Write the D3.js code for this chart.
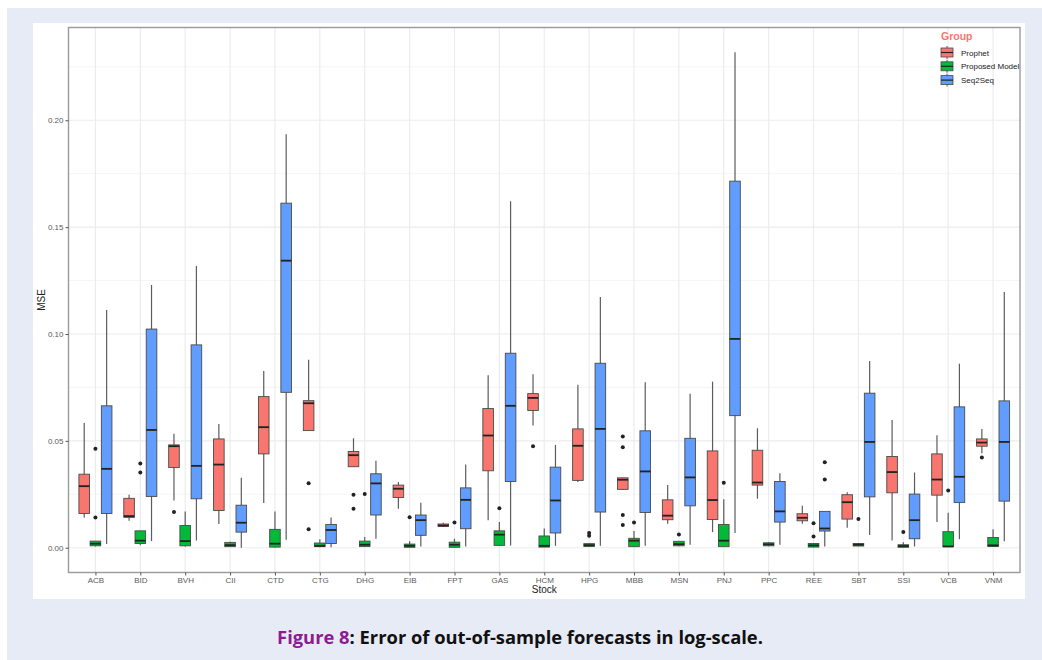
<!DOCTYPE html>
<html>
<head>
<meta charset="utf-8">
<script src="https://cdn.jsdelivr.net/npm/d3@7/dist/d3.min.js"></script>
<style>
	body { margin: 0; background: #fff; }
	text { font-family: "Liberation Sans", Arial, sans-serif; }
</style>
</head>
<body>
<svg id="chart"></svg>
<script>
const stocks = [ 'ACB', 'BID', 'BVH', 'CII', 'CTD', 'CTG', 'DHG', 'EIB', 'FPT', 'GAS', 'HCM',
	'HPG', 'MBB', 'MSN', 'PNJ', 'PPC', 'REE', 'SBT', 'SSI', 'VCB', 'VNM' ];
const groups = [ 'Prophet', 'Proposed Model', 'Seq2Seq' ];
const groupColors = [ '#F8766D', '#00BA38', '#619CFF' ];

// [lower whisker, Q1, median, Q3, upper whisker] for each stock
const prophet = [
	[ 0.0142, 0.0160, 0.0288, 0.0344, 0.0583 ],
	[ 0.0126, 0.0142, 0.0148, 0.0231, 0.0248 ],
	[ 0.0221, 0.0375, 0.0475, 0.0481, 0.0533 ],
	[ 0.0111, 0.0174, 0.0389, 0.0509, 0.0579 ],
	[ 0.0209, 0.0439, 0.0564, 0.0707, 0.0827 ],
	[ 0.0548, 0.0548, 0.0676, 0.0688, 0.0879 ],
	[ 0.0379, 0.0379, 0.0433, 0.0450, 0.0512 ],
	[ 0.0182, 0.0235, 0.0276, 0.0293, 0.0308 ],
	[ 0.0097, 0.0100, 0.0104, 0.0111, 0.0117 ],
	[ 0.0129, 0.0360, 0.0525, 0.0651, 0.0807 ],
	[ 0.0572, 0.0642, 0.0701, 0.0721, 0.0812 ],
	[ 0.0308, 0.0315, 0.0477, 0.0556, 0.0762 ],
	[ 0.0273, 0.0273, 0.0318, 0.0327, 0.0327 ],
	[ 0.0112, 0.0131, 0.0150, 0.0224, 0.0294 ],
	[ 0.0073, 0.0132, 0.0223, 0.0453, 0.0777 ],
	[ 0.0229, 0.0293, 0.0305, 0.0456, 0.0559 ],
	[ 0.0112, 0.0126, 0.0140, 0.0159, 0.0196 ],
	[ 0.0093, 0.0134, 0.0213, 0.0248, 0.0260 ],
	[ 0.0034, 0.0257, 0.0354, 0.0427, 0.0597 ],
	[ 0.0120, 0.0246, 0.0319, 0.0439, 0.0526 ],
	[ 0.0442, 0.0475, 0.0492, 0.0509, 0.0555 ],
];
const proposed = [
	[ 0.0006, 0.0009, 0.0019, 0.0031, 0.0031 ],
	[ 0.0012, 0.0020, 0.0033, 0.0079, 0.0079 ],
	[ 0.0006, 0.0009, 0.0031, 0.0104, 0.0170 ],
	[ 0.0003, 0.0005, 0.0012, 0.0025, 0.0028 ],
	[ 0.0001, 0.0003, 0.0019, 0.0086, 0.0170 ],
	[ 0.0002, 0.0005, 0.0009, 0.0022, 0.0040 ],
	[ 0.0004, 0.0006, 0.0014, 0.0031, 0.0050 ],
	[ 0.0001, 0.0002, 0.0009, 0.0017, 0.0030 ],
	[ 0.0001, 0.0002, 0.0014, 0.0026, 0.0042 ],
	[ 0.0008, 0.0011, 0.0061, 0.0079, 0.0120 ],
	[ 0.0002, 0.0003, 0.0009, 0.0055, 0.0090 ],
	[ 0.0004, 0.0006, 0.0012, 0.0019, 0.0021 ],
	[ 0.0003, 0.0005, 0.0033, 0.0044, 0.0078 ],
	[ 0.0007, 0.0009, 0.0017, 0.0030, 0.0030 ],
	[ 0.0004, 0.0005, 0.0033, 0.0109, 0.0227 ],
	[ 0.0007, 0.0009, 0.0016, 0.0023, 0.0026 ],
	[ 0.0002, 0.0003, 0.0011, 0.0020, 0.0020 ],
	[ 0.0007, 0.0008, 0.0014, 0.0020, 0.0022 ],
	[ 0.0001, 0.0002, 0.0008, 0.0014, 0.0026 ],
	[ 0.0004, 0.0005, 0.0006, 0.0075, 0.0164 ],
	[ 0.0005, 0.0006, 0.0011, 0.0048, 0.0087 ],
];
const seq2seq = [
	[ 0.0017, 0.0160, 0.0369, 0.0664, 0.1112 ],
	[ 0.0031, 0.0240, 0.0551, 0.1023, 0.1229 ],
	[ 0.0034, 0.0229, 0.0383, 0.0949, 0.1318 ],
	[ 0.0000, 0.0073, 0.0117, 0.0199, 0.0327 ],
	[ 0.0037, 0.0727, 0.1343, 0.1612, 0.1935 ],
	[ 0.0002, 0.0020, 0.0083, 0.0109, 0.0142 ],
	[ 0.0042, 0.0153, 0.0301, 0.0346, 0.0407 ],
	[ 0.0006, 0.0058, 0.0129, 0.0153, 0.0210 ],
	[ 0.0006, 0.0089, 0.0224, 0.0280, 0.0389 ],
	[ 0.0011, 0.0310, 0.0664, 0.0910, 0.1621 ],
	[ 0.0009, 0.0069, 0.0221, 0.0377, 0.0481 ],
	[ 0.0009, 0.0167, 0.0556, 0.0863, 0.1173 ],
	[ 0.0009, 0.0165, 0.0357, 0.0547, 0.0774 ],
	[ 0.0014, 0.0196, 0.0329, 0.0512, 0.0720 ],
	[ 0.0069, 0.0618, 0.0977, 0.1715, 0.2318 ],
	[ 0.0014, 0.0120, 0.0170, 0.0310, 0.0349 ],
	[ 0.0006, 0.0078, 0.0090, 0.0170, 0.0170 ],
	[ 0.0059, 0.0238, 0.0495, 0.0723, 0.0874 ],
	[ 0.0006, 0.0042, 0.0129, 0.0251, 0.0352 ],
	[ 0.0040, 0.0212, 0.0332, 0.0659, 0.0861 ],
	[ 0.0030, 0.0218, 0.0495, 0.0687, 0.1196 ],
];

// outliers: [stock, value]
const prophetOutliers = [
	[ 'BVH', 0.0167 ], [ 'CTG', 0.0302 ], [ 'CTG', 0.0087 ], [ 'DHG', 0.0248 ], [ 'DHG', 0.0182 ],
	[ 'HCM', 0.0475 ], [ 'MBB', 0.0520 ], [ 'MBB', 0.0470 ], [ 'MBB', 0.0153 ], [ 'MBB', 0.0106 ],
	[ 'VNM', 0.0422 ],
];
const proposedOutliers = [
	[ 'ACB', 0.0463 ], [ 'ACB', 0.0142 ], [ 'BID', 0.0394 ], [ 'BID', 0.0352 ], [ 'DHG', 0.0251 ],
	[ 'EIB', 0.0143 ], [ 'FPT', 0.0118 ], [ 'GAS', 0.0185 ], [ 'HPG', 0.0069 ], [ 'HPG', 0.0056 ],
	[ 'MBB', 0.0118 ], [ 'MSN', 0.0062 ], [ 'PNJ', 0.0304 ], [ 'REE', 0.0114 ], [ 'REE', 0.0053 ],
	[ 'SBT', 0.0134 ], [ 'SSI', 0.0073 ], [ 'VCB', 0.0268 ],
];
const seq2seqOutliers = [
	[ 'REE', 0.0400 ], [ 'REE', 0.0319 ],
];

const yTicks = [ 0, 0.05, 0.10, 0.15, 0.20 ];
const yMinorTicks = [ 0.025, 0.075, 0.125, 0.175, 0.225 ];

const width = 1042;
const height = 660;
const panel = { left: 68.5, top: 27.5, right: 1020, bottom: 572.5 };

const svg = d3.select( '#chart' )
	.attr( 'width', width )
	.attr( 'height', height );

// page backdrop
svg.append( 'rect' ).attr( 'x', 7 ).attr( 'y', 8 ).attr( 'width', width - 7 ).attr( 'height', height - 8 )
	.attr( 'fill', '#e7ebf6' );
svg.append( 'rect' ).attr( 'x', 33 ).attr( 'y', 23 ).attr( 'width', 992 ).attr( 'height', 576 )
	.attr( 'fill', '#ffffff' );

const statsByGroup = [ prophet, proposed, seq2seq ];
const outliersByGroup = [ prophetOutliers, proposedOutliers, seq2seqOutliers ];

// y range: data extent expanded by 5% like ggplot
const allValues = statsByGroup.flat( 2 ).concat( outliersByGroup.flat().map( ( d ) => d[ 1 ] ) );
const yMin = d3.min( allValues );
const yMax = d3.max( allValues );
const pad = ( yMax - yMin ) * 0.05;

const x = d3.scalePoint()
	.domain( stocks )
	.range( [ panel.left, panel.right ] )
	.padding( 0.6 );

const y = d3.scaleLinear()
	.domain( [ yMin - pad, yMax + pad ] )
	.range( [ panel.bottom, panel.top ] );

const dodge = x.step() * 0.25;
const boxWidth = x.step() * 0.236;

// grid
const grid = svg.append( 'g' );
grid.selectAll( 'line.minor' ).data( yMinorTicks ).enter().append( 'line' )
	.attr( 'x1', panel.left ).attr( 'x2', panel.right )
	.attr( 'y1', ( d ) => y( d ) ).attr( 'y2', ( d ) => y( d ) )
	.attr( 'stroke', '#f5f5f5' ).attr( 'stroke-width', 1 );
grid.selectAll( 'line.major' ).data( yTicks ).enter().append( 'line' )
	.attr( 'x1', panel.left ).attr( 'x2', panel.right )
	.attr( 'y1', ( d ) => y( d ) ).attr( 'y2', ( d ) => y( d ) )
	.attr( 'stroke', '#ececec' ).attr( 'stroke-width', 1.2 );
grid.selectAll( 'line.vmajor' ).data( stocks ).enter().append( 'line' )
	.attr( 'x1', ( d ) => x( d ) ).attr( 'x2', ( d ) => x( d ) )
	.attr( 'y1', panel.top ).attr( 'y2', panel.bottom )
	.attr( 'stroke', '#ececec' ).attr( 'stroke-width', 1.2 );

// boxes
groups.forEach( ( g, gi ) => {
	const offset = ( gi - 1 ) * dodge;
	const layer = svg.append( 'g' );
	const rows = statsByGroup[ gi ].map( ( s, i ) => ( { stock: stocks[ i ], s } ) );

	layer.selectAll( 'line.whisker' ).data( rows ).enter().append( 'line' )
		.attr( 'x1', ( d ) => x( d.stock ) + offset )
		.attr( 'x2', ( d ) => x( d.stock ) + offset )
		.attr( 'y1', ( d ) => y( d.s[ 0 ] ) )
		.attr( 'y2', ( d ) => y( d.s[ 4 ] ) )
		.attr( 'stroke', '#5c5c5c' )
		.attr( 'stroke-width', 1.2 );

	layer.selectAll( 'rect.box' ).data( rows ).enter().append( 'rect' )
		.attr( 'x', ( d ) => x( d.stock ) + offset - boxWidth / 2 )
		.attr( 'y', ( d ) => y( d.s[ 3 ] ) )
		.attr( 'width', boxWidth )
		.attr( 'height', ( d ) => Math.max( y( d.s[ 1 ] ) - y( d.s[ 3 ] ), 0.5 ) )
		.attr( 'fill', groupColors[ gi ] )
		.attr( 'stroke', '#4a4a4a' )
		.attr( 'stroke-width', 0.9 );

	layer.selectAll( 'line.median' ).data( rows ).enter().append( 'line' )
		.attr( 'x1', ( d ) => x( d.stock ) + offset - boxWidth / 2 )
		.attr( 'x2', ( d ) => x( d.stock ) + offset + boxWidth / 2 )
		.attr( 'y1', ( d ) => y( d.s[ 2 ] ) )
		.attr( 'y2', ( d ) => y( d.s[ 2 ] ) )
		.attr( 'stroke', '#222' )
		.attr( 'stroke-width', 1.8 );

	layer.selectAll( 'circle' ).data( outliersByGroup[ gi ] ).enter().append( 'circle' )
		.attr( 'cx', ( d ) => x( d[ 0 ] ) + offset )
		.attr( 'cy', ( d ) => y( d[ 1 ] ) )
		.attr( 'r', 2 )
		.attr( 'fill', '#222' );
} );

// panel border
svg.append( 'rect' )
	.attr( 'x', panel.left ).attr( 'y', panel.top )
	.attr( 'width', panel.right - panel.left ).attr( 'height', panel.bottom - panel.top )
	.attr( 'fill', 'none' ).attr( 'stroke', '#9a9a9a' ).attr( 'stroke-width', 1.4 );

// axes
const yAxis = svg.append( 'g' )
	.attr( 'transform', `translate(${ panel.left },0)` )
	.call( d3.axisLeft( y ).tickValues( yTicks ).tickSize( 3 ).tickPadding( 2 ).tickFormat( d3.format( '.2f' ) ) );
const xAxis = svg.append( 'g' )
	.attr( 'transform', `translate(0,${ panel.bottom })` )
	.call( d3.axisBottom( x ).tickSize( 3 ).tickPadding( 1.5 ) );
[ yAxis, xAxis ].forEach( ( a ) => {
	a.select( '.domain' ).remove();
	a.selectAll( '.tick line' ).attr( 'stroke', '#555' );
	a.selectAll( '.tick text' ).attr( 'fill', '#5a5a5a' ).style( 'font-size', '8px' );
} );

svg.append( 'text' )
	.attr( 'transform', `translate(45,${ ( panel.top + panel.bottom ) / 2 }) rotate(-90)` )
	.attr( 'text-anchor', 'middle' )
	.style( 'font-size', '10px' )
	.attr( 'fill', '#222' )
	.text( 'MSE' );

svg.append( 'text' )
	.attr( 'x', ( panel.left + panel.right ) / 2 )
	.attr( 'y', 593 )
	.attr( 'text-anchor', 'middle' )
	.style( 'font-size', '10px' )
	.attr( 'fill', '#222' )
	.text( 'Stock' );

// legend
const legend = svg.append( 'g' ).attr( 'transform', 'translate(941,0)' );
legend.append( 'text' )
	.attr( 'x', 0 ).attr( 'y', 40 )
	.style( 'font-size', '10.5px' )
	.style( 'font-weight', 'bold' )
	.attr( 'fill', '#F8766D' )
	.text( 'Group' );
const keys = legend.selectAll( 'g.key' ).data( groups ).enter().append( 'g' )
	.attr( 'transform', ( d, i ) => `translate(0,${ 52.5 + i * 13.8 })` );
keys.append( 'line' )
	.attr( 'x1', 6 ).attr( 'x2', 6 ).attr( 'y1', -6.5 ).attr( 'y2', 6.5 )
	.attr( 'stroke', '#5c5c5c' );
keys.append( 'rect' )
	.attr( 'x', 0 ).attr( 'y', -4.5 ).attr( 'width', 12 ).attr( 'height', 9 )
	.attr( 'fill', ( d, i ) => groupColors[ i ] )
	.attr( 'stroke', '#4a4a4a' ).attr( 'stroke-width', 0.8 );
keys.append( 'line' )
	.attr( 'x1', 0 ).attr( 'x2', 12 ).attr( 'y1', 0 ).attr( 'y2', 0 )
	.attr( 'stroke', '#222' ).attr( 'stroke-width', 1.2 );
keys.append( 'text' )
	.attr( 'x', 20 ).attr( 'y', 3 )
	.style( 'font-size', '8px' )
	.attr( 'fill', '#222' )
	.text( ( d ) => d );

// caption: size the font so the line spans the same width as the original
const caption = svg.append( 'text' )
	.attr( 'x', 520 ).attr( 'y', 644 )
	.attr( 'text-anchor', 'middle' )
	.style( 'font-family', '"Open Sans", "Noto Sans", sans-serif' )
	.style( 'font-size', '20px' )
	.style( 'font-weight', 'bold' )
	.attr( 'fill', '#111' );
caption.append( 'tspan' ).attr( 'fill', '#8e1b92' ).text( 'Figure 8' );
caption.append( 'tspan' ).text( ': Error of out-of-sample forecasts in log-scale.' );
const natural = caption.node().getComputedTextLength();
caption.style( 'font-size', `${ 20 * 486 / natural }px` );
</script>
</body>
</html>
